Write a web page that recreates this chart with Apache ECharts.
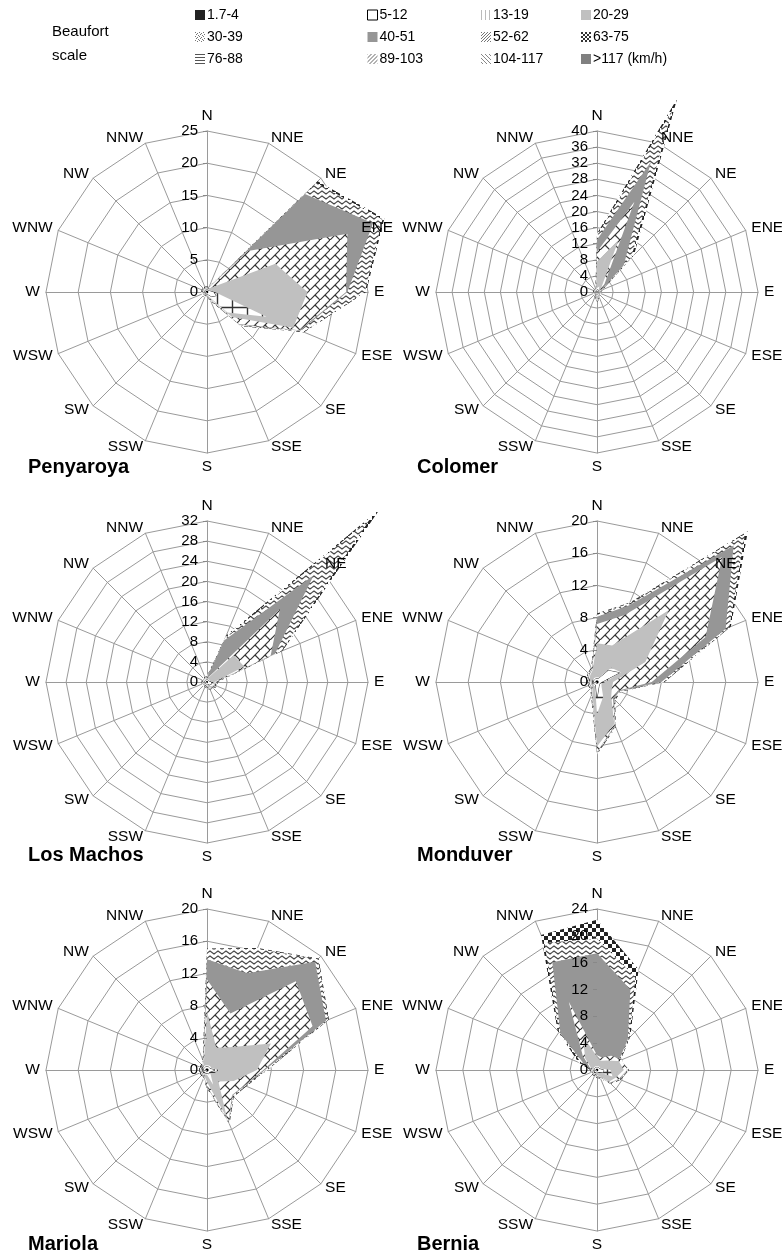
<!DOCTYPE html>
<html><head><meta charset="utf-8">
<script src="https://cdn.jsdelivr.net/npm/echarts@6/dist/echarts.min.js"></script>
<style>html,body{margin:0;padding:0;background:#fff}#c{width:782px;height:1257px}</style>
</head><body><div id="c"></div>
<script>
// ---------- data ----------
const DIRECTIONS = ['N','NNE','NE','ENE','E','ESE','SE','SSE','S','SSW','SW','WSW','W','WNW','NW','NNW'];
const CLASSES = ['1.7-4','5-12','13-19','20-29','30-39','40-51','52-62','63-75','76-88','89-103','104-117','>117 (km/h)'];
const STATIONS = ['Penyaroya','Colomer','Los Machos','Monduver','Mariola','Bernia'];
const AXIS_MAX = [25, 40, 32, 20, 20, 24];
const AXIS_STEP = [5, 4, 4, 4, 4, 4];

// cumulative frequency (%) of wind up to each Beaufort class (rows 1.7-4 ... 63-75), directions N..NNW clockwise
const PENYAROYA = [
  [.2,.2,.2,.2,.2,.2,.2,.2,.2,.2,.2,.2,.2,.2,.2,.2],
  [.3,.3,.3,.4,1,1.5,1,.4,.3,.3,.3,.3,.3,.3,.3,.3],
  [.4,.4,.5,.6,1.2,10,4.5,.8,.4,.4,.4,.4,.4,.4,.4,.4],
  [.5,.6,1,11.5,15.6,14.5,5.5,1,.5,.5,.5,.5,.5,.5,.5,.5],
  [.6,.7,9,23.6,21.6,15.5,7,1.2,.6,.6,.6,.6,.6,.6,.6,.6],
  [.7,.8,21.5,27.9,21.8,15.7,7.2,1.3,.7,.7,.7,.7,.7,.7,.7,.7],
  [.8,.9,24,29.5,24.5,16.2,7.4,1.4,.8,.8,.8,.8,.8,.8,.8,.8],
  [.9,1,24.3,29.8,24.7,16.3,7.5,1.5,.9,.9,.9,.9,.9,.9,.9,.9]
];
const COLOMER = [
  [.2,.2,.2,.2,.2,.2,.2,.2,.2,.2,.2,.2,.2,.2,.2,.2],
  [.4,.6,.4,.4,.4,.4,.4,.4,.6,.4,.4,.4,.4,.4,.4,.4],
  [1,1.5,.6,.6,.6,.6,.6,.8,1,.6,.6,.6,.6,.6,.6,.6],
  [7.5,14,1.5,.8,.6,.6,.6,1.5,2,1,.6,.6,.6,.6,.6,.6],
  [10,24.3,2.5,1,.7,.7,.7,1.6,2.1,1.1,.7,.7,.7,.7,.7,.7],
  [13,35,9.4,1.2,.8,.8,.8,1.7,2.2,1.2,.8,.8,.8,.8,.8,.8],
  [14,49,12,1.5,.9,.9,.9,1.8,2.3,1.3,.9,.9,.9,.9,.9,.9],
  [14.5,52,13,1.6,1,1,1,1.9,2.4,1.4,1,1,1,1,1,1]
];
const LOS_MACHOS = [
  [.2,.2,.2,.2,.2,.2,.2,.2,.2,.2,.2,.2,.2,.2,.2,.2],
  [.4,.4,.4,.4,.8,1,.8,.4,.4,.4,.4,.4,.4,.4,.4,.4],
  [.6,.6,.6,.6,1.2,1.5,1.2,.6,.8,.6,.6,.6,.6,.6,.6,.6],
  [.8,1,7.5,8,1.5,1.8,1.4,1.2,1,.7,.7,.7,.7,.7,.7,.7],
  [.9,1.2,20.5,13.7,1.7,2,1.5,1.3,1.1,.8,.8,.8,.8,.8,.8,.8],
  [1,9,30,14.6,1.8,2.1,1.6,1.4,1.2,.9,.9,.9,.9,.9,.9,.9],
  [1.1,9.5,46,16,2,2.2,1.7,1.5,1.3,1,1,1,1,1,1,1],
  [1.2,10,48.5,16.3,2.1,2.3,1.8,1.6,1.4,1.1,1.1,1.1,1.1,1.1,1.1,1.1]
];
const MONDUVER = [
  [.2,.2,.2,.2,.2,.2,.2,.2,.2,.2,.2,.2,.2,.2,.2,.2],
  [.4,.4,2,3,.6,.4,.4,.6,2,.4,.4,.4,.4,.4,.4,.4],
  [.6,.6,2.5,3.2,1,.6,.8,2,4,.6,.6,.6,.6,.6,.6,.6],
  [4.8,4.9,12.6,6.5,2,2,2.5,5.6,8,1.5,.8,.8,.8,1,1.2,1.5],
  [7.2,9,22,14.6,6.8,2.8,2.8,5.8,8.7,1.6,.9,.9,.9,1.1,1.3,1.6],
  [8.1,10.3,24,17.3,8,3,3,5.9,8.8,1.7,1,1,1,1.2,1.4,1.7],
  [8.4,10.6,26,17.8,8.3,3.1,3.1,6,8.9,1.8,1.1,1.1,1.1,1.3,1.5,1.8],
  [8.5,10.7,26.5,18,8.4,3.2,3.2,6.1,9,1.9,1.2,1.2,1.2,1.4,1.6,1.9]
];
const MARIOLA = [
  [.2,.2,.2,.2,.2,.2,.2,.2,.2,.2,.2,.2,.2,.2,.2,.2],
  [.4,.4,.4,.4,1,.5,.4,.5,.4,.4,.4,.4,.4,.4,.4,.4],
  [.6,.6,.6,.6,1.5,1,.6,2,.6,.6,.6,.6,.6,.6,.6,.6],
  [7.3,3,4,8.6,6.2,3.6,2,6.5,1.5,.8,.6,.6,.6,.6,.6,1],
  [11.25,7.6,15.6,14.2,7,5,4.4,7,2,.9,.7,.7,.7,.7,.7,1.1],
  [13.75,13,19,16,7.2,5.1,4.5,7.1,2.1,1,.8,.8,.8,.8,.8,1.2],
  [15,16.3,19.5,16.3,7.4,5.2,4.6,7.2,2.2,1.1,.9,.9,.9,.9,.9,1.3],
  [15.1,16.4,19.6,16.4,7.5,5.3,4.7,7.3,2.3,1.2,1,1,1,1,1,1.4]
];
const BERNIA = [
  [.2,.2,.2,.2,.2,.2,.2,.2,.2,.2,.2,.2,.2,.2,.2,.2],
  [.4,.4,.4,.4,1,1,.4,.4,.4,.4,.4,.4,.4,.4,.4,.4],
  [.6,.6,.6,.6,2,2.5,.6,.6,.6,.6,.6,.6,.6,.6,.6,.6],
  [2,1.5,2,3.5,4,3,2.5,1,.8,.6,.6,.6,.6,1,2.5,5.5],
  [2.2,2,3,4,4.5,3.5,2.7,1.1,.9,.7,.7,.7,.7,1.2,3,11],
  [17.4,13,6.5,3.5,4.6,3.6,2.8,1.2,1,.8,.8,.8,.8,2,7.7,17.4],
  [19.6,15,6.8,3.7,4.7,3.7,2.9,1.3,1.1,.9,.9,.9,.9,2.5,8,20.5],
  [22.4,16.2,7,3.8,4.8,3.8,3,1.4,1.2,1,1,1,1,3,8.3,21.8]
];
const STATION_DATA = [PENYAROYA, COLOMER, LOS_MACHOS, MONDUVER, MARIOLA, BERNIA];

// ---------- patterns ----------
function tile(w, h, draw) {
  const c = document.createElement('canvas'); c.width = w; c.height = h;
  const g = c.getContext('2d'); g.fillStyle = '#fff'; g.fillRect(0, 0, w, h);
  draw(g); return { image: c, repeat: 'repeat' };
}
const P_BRICK = tile(10, 10, g => {
  g.strokeStyle = '#333'; g.lineWidth = 1.2;
  [0, 10, 20].forEach(s => { g.beginPath(); g.moveTo(0, s); g.lineTo(s, 0); g.stroke(); });
  g.beginPath(); g.moveTo(5, 5); g.lineTo(10, 10); g.stroke();
});
const P_WAVE = tile(8, 5, g => {
  g.strokeStyle = '#444'; g.lineWidth = 1.1;
  g.beginPath(); g.moveTo(0, 2.5); g.lineTo(2, 1); g.lineTo(6, 4); g.lineTo(8, 2.5); g.stroke();
});
const P_CHECK = tile(8, 8, g => { g.fillStyle = '#222'; g.fillRect(0, 0, 4, 4); g.fillRect(4, 4, 4, 4); });
const P_CROSS = tile(15, 15, g => {
  g.strokeStyle = '#333'; g.lineWidth = 1.4;
  g.beginPath(); g.moveTo(0, 7.5); g.lineTo(15, 7.5); g.moveTo(7.5, 0); g.lineTo(7.5, 15); g.stroke();
});
const L_VLINES = tile(4, 4, g => { g.fillStyle = '#bbb'; g.fillRect(0, 0, 1, 4); });
const L_ZIG = tile(4, 4, g => { g.fillStyle = '#777'; g.fillRect(0, 0, 1, 1); g.fillRect(2, 1, 1, 1); g.fillRect(1, 2, 1, 1); g.fillRect(3, 3, 1, 1); });
const L_DOTS = tile(3, 3, g => { g.fillStyle = '#777'; g.fillRect(0, 0, 1, 1); g.fillRect(2, 1, 1, 1); g.fillRect(1, 2, 1, 1); });
const L_CHECK = tile(4, 4, g => { g.fillStyle = '#333'; g.fillRect(0, 0, 2, 2); g.fillRect(2, 2, 2, 2); });
const L_HLINES = tile(4, 3, g => { g.fillStyle = '#555'; g.fillRect(0, 0, 4, 1); });
const L_DIAG = tile(4, 4, g => { g.fillStyle = '#666'; for (let i = 0; i < 4; i++) g.fillRect(3 - i, i, 1, 1); });
const L_BDIAG = tile(4, 4, g => { g.fillStyle = '#888'; for (let i = 0; i < 4; i++) g.fillRect(i, i, 1, 1); });

const SERIES_FILL = ['#000', '#fff', P_CROSS, '#c0c0c0', P_BRICK, '#969696', P_WAVE, P_CHECK, P_CHECK, P_CHECK, P_CHECK, '#808080'];
const LEGEND_FILL = ['#222', '#fff', L_VLINES, '#c0c0c0', L_ZIG, '#969696', L_DOTS, L_CHECK, L_HLINES, L_DIAG, L_BDIAG, '#808080'];

// ---------- layout ----------
const CENTERS = [[207, 292], [597, 292], [207, 682], [597, 682], [207, 1070], [597, 1070]];
const TITLE_POS = [[28, 457], [417, 457], [28, 845], [417, 845], [28, 1234], [417, 1234]];
const R = 161;
const FONT = 'Liberation Sans, Arial, sans-serif';

// radar lays indicators counter-clockwise: reorder to N, NNW, NW ... NNE
const ccwIdx = DIRECTIONS.map((d, k) => (16 - k) % 16);
const ccw = arr => ccwIdx.map(i => arr[i]);

function makeRadar(s, withGrid) {
  return {
    center: CENTERS[s], radius: R, startAngle: 90, shape: 'polygon',
    z: withGrid ? 0 : 10,
    splitNumber: AXIS_MAX[s] / AXIS_STEP[s],
    indicator: ccw(DIRECTIONS).map((nm, k) => {
      const o = { name: nm, min: 0, max: AXIS_MAX[s] };
      if (k === 0 && !withGrid) {
        o.axisLabel = { show: true };
        o.axisTick = { show: true };
      }
      return o;
    }),
    nameGap: 6,
    axisName: { show: !withGrid, color: '#000', fontSize: 15.5, fontFamily: FONT },
    axisLabel: { show: false, color: '#000', fontSize: 15, fontFamily: FONT, margin: 9 },
    axisTick: { show: false, length: 4, lineStyle: { color: '#888', width: 1 } },
    splitLine: { show: withGrid, lineStyle: { color: '#9a9a9a', width: 1 } },
    splitArea: { show: false },
    axisLine: { show: withGrid, lineStyle: { color: '#9a9a9a', width: 1 } }
  };
}
const radar = STATION_DATA.map((d, s) => makeRadar(s, true))
  .concat(STATION_DATA.map((d, s) => makeRadar(s, false)));

const series = [];
STATION_DATA.forEach((rows, s) => {
  for (let k = rows.length - 1; k >= 0; k--) {
    series.push({
      type: 'radar', radarIndex: s, name: CLASSES[k], symbol: 'none', silent: true,
      lineStyle: k === 1 ? { width: 1, color: '#222' } : { width: 0, opacity: 0 },
      areaStyle: { color: SERIES_FILL[k], opacity: 1 },
      data: [{ value: ccw(rows[k]) }]
    });
  }
});
for (let k = 8; k < CLASSES.length; k++) {
  series.push({ type: 'radar', radarIndex: 0, name: CLASSES[k], symbol: 'none', data: [] });
}

const LEGEND_COLS = [190, 362, 476, 576];
const legend = LEGEND_COLS.map((x, c) => ({
  orient: 'vertical', left: x, top: 3, itemGap: 8, itemWidth: 10, itemHeight: 10,
  icon: 'rect', selectedMode: false,
  textStyle: { color: '#000', fontSize: 14, fontFamily: FONT, padding: [0, 0, 0, -3] },
  data: [0, 1, 2].map(r => {
    const k = r * 4 + c;
    return { name: CLASSES[k], icon: 'rect',
      itemStyle: { color: LEGEND_FILL[k], borderColor: k === 1 ? '#000' : 'transparent', borderWidth: k === 1 ? 1 : 0 } };
  })
}));

const title = [{ text: 'Beaufort\nscale', left: 52, top: 20, padding: 0,
  textStyle: { fontSize: 15, fontWeight: 'normal', color: '#000', fontFamily: FONT, lineHeight: 24 } }]
  .concat(STATIONS.map((n, s) => ({ text: n, left: TITLE_POS[s][0], top: TITLE_POS[s][1], padding: 0,
    textStyle: { fontSize: 20, fontWeight: 'bold', color: '#000', fontFamily: FONT } })));

const chart = echarts.init(document.getElementById('c'), null, { renderer: 'canvas' });
chart.setOption({ animation: false, backgroundColor: '#fff', title, legend, radar, series });
</script></body></html>
